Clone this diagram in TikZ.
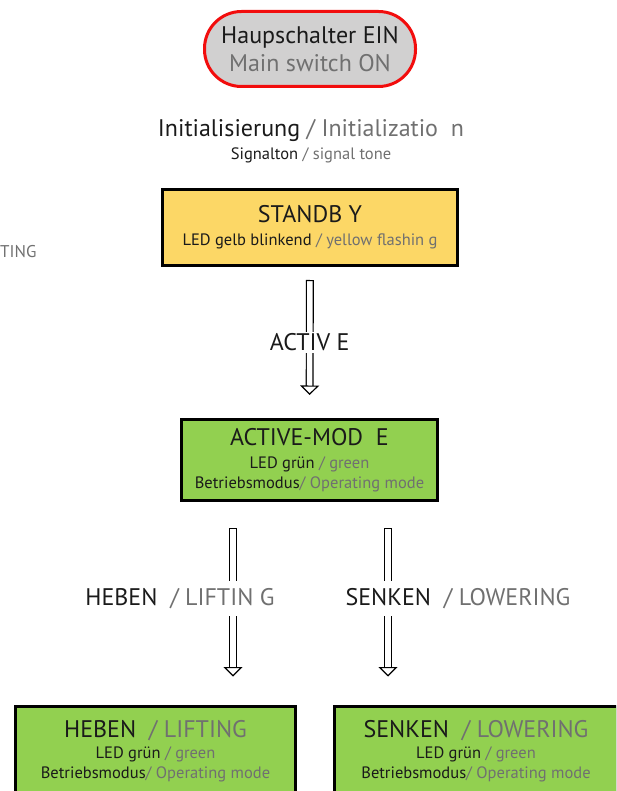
\documentclass[tikz,border=0pt]{standalone}
\usepackage{fontspec}
\setmainfont{PT Sans}
\usetikzlibrary{arrows.meta, positioning}

\definecolor{txtdark}{HTML}{1A1A1A}
\definecolor{txtgray}{HTML}{707070}
\definecolor{pillgray}{HTML}{D1D0D0}
\definecolor{pillred}{HTML}{F20D0D}
\definecolor{standbyyellow}{HTML}{FCD766}
\definecolor{modegreen}{HTML}{92D050}

\newcommand{\en}[1]{\textcolor{txtgray}{#1}}
\newcommand{\titlefont}{\fontsize{24}{28}\selectfont}
\newcommand{\subfont}{\fontsize{16.5}{20}\selectfont}

\begin{document}
\begin{tikzpicture}[
        x=1pt, y=-1pt,
        text=txtdark,
        pill/.style={draw=pillred, line width=3pt, fill=pillgray, rounded corners=37pt, align=center, minimum width=211pt, minimum height=75pt, font=\titlefont},
        statebox/.style={draw=black, line width=3pt, align=center, font=\subfont},
        lowbox/.style={statebox, fill=modegreen, anchor=north, minimum width=280pt, inner ysep=14pt, text depth=60pt},
        dblarrow/.style={double, double distance=5.5pt, line width=1.2pt, {Bar[width=7.9pt, line width=1.2pt]}-{Triangle[open, length=9.5pt, width=19pt, line width=1.2pt]}},
        steplabel/.style={fill=white, font=\titlefont, inner xsep=3pt, inner ysep=2pt}
    ]
        \clip (0,0) rectangle (616,791);

        \node[pill] (mainswitch) at (310,49) {Haupschalter EIN\\\en{Main switch ON}};
        \node[font=\titlefont] (init) at (311,131) {Initialisierung \en{/ Initializatio\ \ n}};
        \node[font=\subfont, below=2pt of init, inner sep=0pt] (tone) {Signalton \en{/ signal tone}};
        \node[font=\fontsize{17}{20}\selectfont, text=txtgray, anchor=west, inner sep=0pt] (blinking) at (0,252) {TING};

        \node[statebox, fill=standbyyellow, minimum width=295pt, minimum height=76pt] (standby) at (310,227.5)
            {{\titlefont STANDB\ Y}\\[3pt] LED gelb blinkend \en{/ yellow flashin\ g}};
        \node[statebox, fill=modegreen, minimum width=256pt, minimum height=81pt] (active) at (309.5,460)
            {{\titlefont ACTIVE-MOD\ \ E}\\[3pt] LED grün \en{/ green}\\ Betriebsmodus\en{/ Operating mode}};
        \node[lowbox] (lifting) at (155.5,704.5)
            {{\titlefont HEBEN\ \ \en{/ LIFTING}}\\[1pt] LED grün \en{/ green}\\ Betriebsmodus\en{/ Operating mode}};
        \node[lowbox, minimum width=283pt] (lowering) at (476,704.5)
            {{\titlefont SENKEN\ \ \en{/ LOWERING}}\\[1pt] LED grün \en{/ green}\\ Betriebsmodus\en{/ Operating mode}};

        \coordinate (liftstart) at ([xshift=-76.5pt]active.south);
        \coordinate (lowerstart) at ([xshift=78.5pt]active.south);

        \draw[dblarrow, shorten <=13pt, shorten >=23pt] (standby) -- (active)
            node[steplabel, midway] (activate) {ACTIV\ E};
        \draw[dblarrow, shorten <=26pt, shorten >=28pt] (liftstart) -- (liftstart |- lifting.north);
        \draw[dblarrow, shorten <=26pt, shorten >=28pt] (lowerstart) -- (lowerstart |- lowering.north);

        \node[steplabel, minimum height=35pt] (liftlabel) at (180,598.5) {HEBEN\ \ \en{/ LIFTIN\ G}};
        \node[steplabel, minimum height=35pt] (lowerlabel) at (458,598.5) {SENKEN\ \ \en{/ LOWERING}};
    \end{tikzpicture}
\end{document}
